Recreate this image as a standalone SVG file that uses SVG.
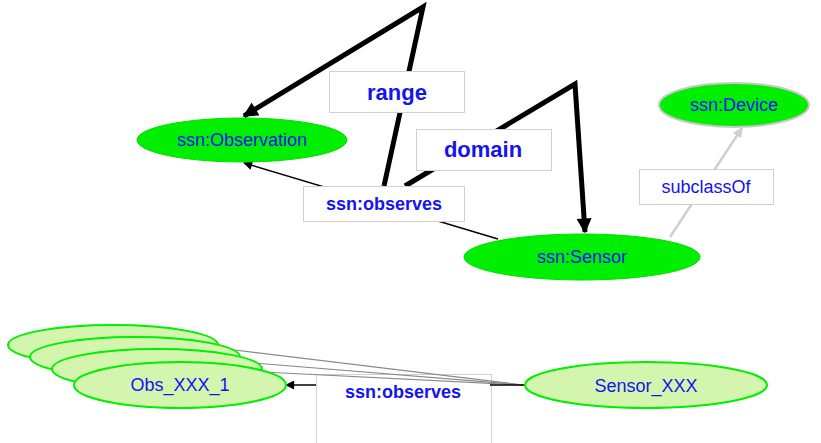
<svg xmlns="http://www.w3.org/2000/svg" width="821" height="443" viewBox="0 0 821 443">
  <style>
    .cls { fill: #00ee00; stroke: #00dd00; stroke-width: 1; }
    .dev { fill: #00ee00; stroke: #c8c8c8; stroke-width: 2; }
    .ind { fill: #d4f5ae; stroke: #00ee00; stroke-width: 2; }
    .box { fill: #ffffff; stroke: #d0d0d0; stroke-width: 1; }
    .lbl { font-family: "Liberation Sans", Arial, sans-serif; font-size: 18px; fill: #1414f0; text-anchor: middle; }
    .bold { font-weight: bold; }
    .big { font-size: 22px; }
    .thick { fill: none; stroke: #000; stroke-width: 5; stroke-linejoin: miter; }
    .thin { fill: none; stroke: #000; stroke-width: 1.5; }
    .grey { fill: none; stroke: #8a8a8a; stroke-width: 1.2; }
    .sub { fill: none; stroke: #cfcfcf; stroke-width: 2.5; }
  </style>
  <defs>
    <marker id="bigHead" viewBox="0 0 10 10" refX="9" refY="5" markerUnits="userSpaceOnUse" markerWidth="16" markerHeight="15" orient="auto">
      <path d="M0,0 L10,5 L0,10 Z" fill="#000"/>
    </marker>
    <marker id="smallHead" viewBox="0 0 10 10" refX="9" refY="5" markerUnits="userSpaceOnUse" markerWidth="11" markerHeight="9" orient="auto">
      <path d="M0,0 L10,5 L0,10 Z" fill="#000"/>
    </marker>
    <marker id="greyHead" viewBox="0 0 10 10" refX="9" refY="5" markerUnits="userSpaceOnUse" markerWidth="12" markerHeight="10" orient="auto">
      <path d="M0,0 L10,5 L0,10 Z" fill="#cfcfcf"/>
    </marker>
  </defs>

  <!-- class-level connectors -->
  <g id="connectors">
    <!-- ssn:observes between classes -->
    <path class="thin" d="M498,239 L244,163" marker-end="url(#smallHead)"/>
    <!-- range: from property up and over to ssn:Observation -->
    <path class="thick" d="M384,186 L423,7 L244,116" marker-end="url(#bigHead)"/>
    <!-- domain: from property up and down to ssn:Sensor -->
    <path class="thick" d="M405,186 L575,84 L585,232" marker-end="url(#bigHead)"/>
    <!-- subclassOf -->
    <path class="sub" d="M670,237 L742,128" marker-end="url(#greyHead)"/>
    <!-- instance level arrow -->
    <path class="thin" d="M316,385 L286,385" marker-end="url(#smallHead)"/>
  </g>

  <!-- edge label boxes -->
  <g id="label-range">
    <rect class="box" x="329.5" y="71.5" width="135" height="41"/>
    <text class="lbl bold big" x="397" y="100">range</text>
  </g>
  <g id="label-domain">
    <rect class="box" x="416.5" y="129.5" width="135" height="41"/>
    <text class="lbl bold big" x="483" y="157">domain</text>
  </g>
  <g id="label-observes">
    <rect class="box" x="303.5" y="186.5" width="161" height="35"/>
    <text class="lbl bold" x="384" y="210">ssn:observes</text>
  </g>
  <g id="label-subclass">
    <rect class="box" x="639.5" y="169.5" width="134" height="35"/>
    <text class="lbl" x="706" y="193">subclassOf</text>
  </g>
  <g id="label-observes-inst">
    <rect class="box" x="316.5" y="374.5" width="175" height="80"/>
    <text class="lbl bold" x="403" y="398">ssn:observes</text>
  </g>

  <!-- instance-level links from the sensor to each observation -->
  <g id="instance-connectors">
    <path class="grey" d="M523,385 L218,348"/>
    <path class="grey" d="M523,385 L242,362"/>
    <path class="grey" d="M523,385 L263,372"/>
    <path class="thin" d="M525,385 L490,385"/>
  </g>

  <!-- class nodes -->
  <g id="node-observation">
    <ellipse class="cls" cx="242" cy="140" rx="105" ry="22"/>
    <text class="lbl" x="242" y="146">ssn:Observation</text>
  </g>
  <g id="node-sensor">
    <ellipse class="cls" cx="582" cy="257" rx="118" ry="23"/>
    <text class="lbl" x="582" y="263">ssn:Sensor</text>
  </g>
  <g id="node-device">
    <ellipse class="dev" cx="734" cy="105" rx="75" ry="22"/>
    <text class="lbl" x="734" y="111">ssn:Device</text>
  </g>

  <!-- instance nodes -->
  <g id="node-obs-stack">
    <ellipse class="ind" cx="113" cy="345" rx="105" ry="20"/>
    <ellipse class="ind" cx="135" cy="357" rx="105" ry="20"/>
    <ellipse class="ind" cx="157" cy="369" rx="105" ry="20"/>
  </g>
  <g id="node-obs1">
    <ellipse class="ind" cx="180" cy="385" rx="106" ry="23"/>
    <text class="lbl" x="180" y="391">Obs_XXX_1</text>
  </g>
  <g id="node-sensor-xxx">
    <ellipse class="ind" cx="646" cy="385" rx="121" ry="23"/>
    <text class="lbl" x="646" y="392">Sensor_XXX</text>
  </g>
</svg>
